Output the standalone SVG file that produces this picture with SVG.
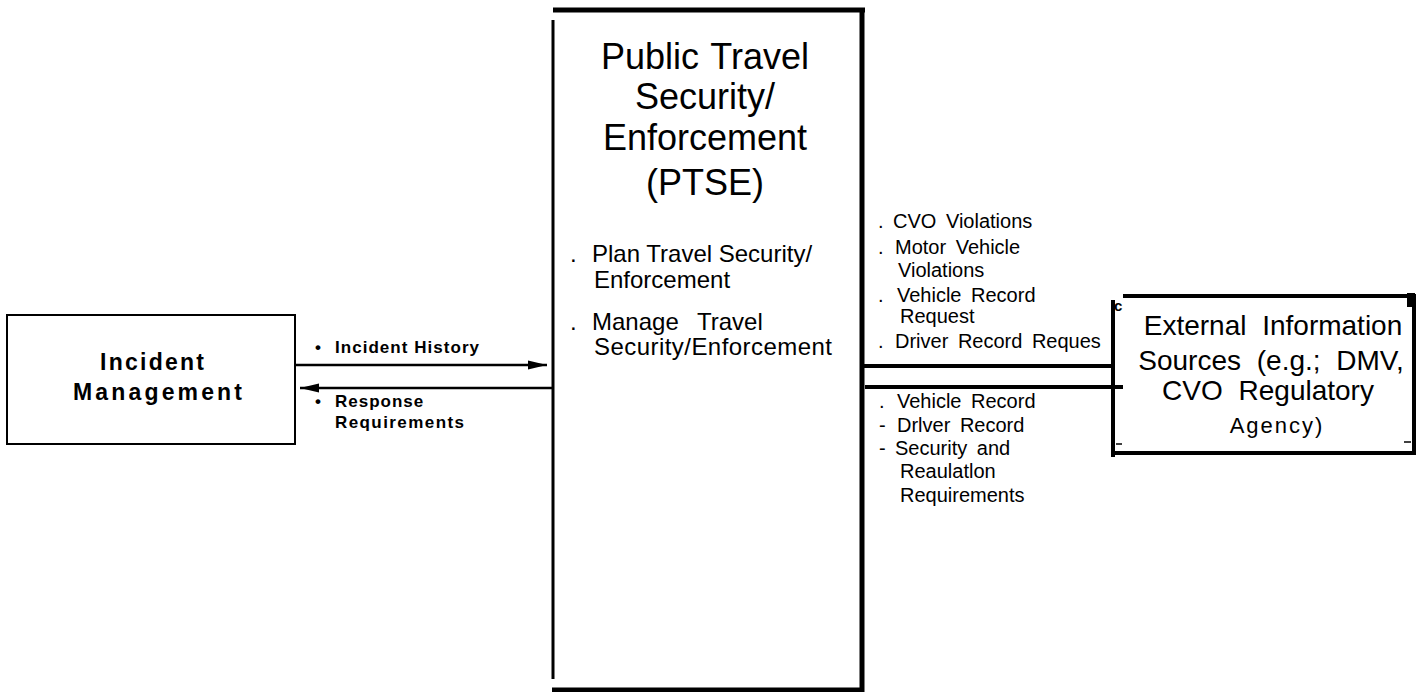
<svg xmlns="http://www.w3.org/2000/svg" width="1427" height="692" viewBox="0 0 1427 692">
<style>
  .bg{fill:#fff}
  .ln{fill:none;stroke:#000;stroke-linecap:butt}
  .t{font-family:"Liberation Sans",Arial,Helvetica,sans-serif;fill:#000}
  .tb{font-family:"Liberation Sans",Arial,Helvetica,sans-serif;font-weight:bold;fill:#000}
  .title{font-size:36px}
  .proc{font-size:24px}
  .flow{font-size:20px}
  .ext{font-size:28px}
  .iflow{font-size:17px;letter-spacing:1px}
</style>
<defs>
  <marker id="ah" markerUnits="userSpaceOnUse" markerWidth="19" markerHeight="10" refX="19" refY="5" orient="auto">
    <path d="M0,0.5 L19,5 L0,9.5 z" fill="#000"/>
  </marker>
</defs>
<rect class="bg" x="0" y="0" width="1427" height="692"/>

<g id="connectors">
  <line class="ln" x1="296" y1="365" x2="547" y2="365" stroke-width="2.5" marker-end="url(#ah)"/>
  <line class="ln" x1="553" y1="388" x2="300" y2="388" stroke-width="2.5" marker-end="url(#ah)"/>
  <line class="ln" x1="862" y1="366" x2="1113" y2="366" stroke-width="4"/>
  <line class="ln" x1="865" y1="387" x2="1123" y2="387" stroke-width="4"/>
</g>

<g id="connector-labels">
  <text class="tb iflow"><tspan x="315" y="353">•</tspan><tspan x="335" y="353" textLength="145" lengthAdjust="spacing">Incident History</tspan></text>
  <text class="tb iflow"><tspan x="315" y="407">•</tspan><tspan x="335" y="407">Response</tspan></text>
  <text class="tb iflow" x="335" y="428" textLength="130" lengthAdjust="spacing">Requirements</text>

  <text class="t flow"><tspan x="878" y="228">.</tspan><tspan x="893" y="228" word-spacing="4">CVO Violations</tspan></text>
  <text class="t flow"><tspan x="878" y="254">.</tspan><tspan x="895" y="254" word-spacing="4">Motor Vehicle</tspan></text>
  <text class="t flow" x="898" y="277">Violations</text>
  <text class="t flow"><tspan x="878" y="302">.</tspan><tspan x="897" y="302" word-spacing="4">Vehicle Record</tspan></text>
  <text class="t flow" x="900" y="323">Request</text>
  <text class="t flow"><tspan x="878" y="348">.</tspan><tspan x="895" y="348" word-spacing="4">Driver Record Reques</tspan></text>

  <text class="t flow"><tspan x="879" y="408">.</tspan><tspan x="897" y="408" word-spacing="4">Vehicle Record</tspan></text>
  <text class="t flow"><tspan x="879" y="432">-</tspan><tspan x="897" y="432" word-spacing="4">Drlver Record</tspan></text>
  <text class="t flow"><tspan x="879" y="455">-</tspan><tspan x="895" y="455" word-spacing="4">Security and</tspan></text>
  <text class="t flow" x="900" y="478">Reaulatlon</text>
  <text class="t flow" x="900" y="502">Requirements</text>
</g>

<g id="incident-management">
  <rect class="ln" x="7" y="315" width="288" height="129" stroke-width="2"/>
  <text class="tb" font-size="23" x="100" y="370" textLength="104" lengthAdjust="spacing">Incident</text>
  <text class="tb" font-size="23" x="73" y="400" textLength="169" lengthAdjust="spacing">Management</text>
</g>

<g id="ptse">
  <line class="ln" x1="553" y1="10" x2="865" y2="10" stroke-width="5"/>
  <line class="ln" x1="553" y1="20" x2="553" y2="679" stroke-width="3"/>
  <line class="ln" x1="552" y1="690" x2="864" y2="690" stroke-width="5"/>
  <line class="ln" x1="862" y1="8" x2="862" y2="692" stroke-width="5"/>
  <text class="t title" text-anchor="middle" x="705" y="69" word-spacing="2">Public Travel</text>
  <text class="t title" text-anchor="middle" x="705" y="109">Security/</text>
  <text class="t title" text-anchor="middle" x="705" y="150">Enforcement</text>
  <text class="t title" text-anchor="middle" x="705" y="195">(PTSE)</text>
  <text class="t proc"><tspan x="570" y="262">.</tspan><tspan x="592" y="262">Plan Travel Security/</tspan></text>
  <text class="t proc" x="594" y="288">Enforcement</text>
  <text class="t proc"><tspan x="570" y="330">.</tspan><tspan x="592" y="330" word-spacing="12">Manage Travel</tspan></text>
  <text class="t proc" x="594" y="355" textLength="238" lengthAdjust="spacing">Security/Enforcement</text>
</g>

<g id="external-information-sources">
  <line class="ln" x1="1123" y1="296" x2="1416" y2="296" stroke-width="4"/>
  <line class="ln" x1="1113" y1="300" x2="1113" y2="457" stroke-width="4"/>
  <line class="ln" x1="1111" y1="453" x2="1416" y2="453" stroke-width="4"/>
  <line class="ln" x1="1414" y1="294" x2="1414" y2="455" stroke-width="4"/>
  <rect x="1407" y="293" width="8" height="14" fill="#000"/>
  <line class="ln" x1="1116" y1="444" x2="1122" y2="444" stroke-width="1.5"/>
  <line class="ln" x1="1404" y1="442" x2="1411" y2="442" stroke-width="1.5"/>
  <text class="tb" font-size="15" x="1114" y="311">c</text>
  <text class="t ext" text-anchor="middle" x="1273" y="335" word-spacing="8">External Information</text>
  <text class="t ext" text-anchor="middle" x="1271" y="370" word-spacing="8">Sources (e.g.; DMV,</text>
  <text class="t ext" text-anchor="middle" x="1268" y="400" word-spacing="8">CVO Regulatory</text>
  <text class="t" font-size="22" text-anchor="middle" x="1277" y="433" letter-spacing="2">Agency)</text>
</g>
</svg>
